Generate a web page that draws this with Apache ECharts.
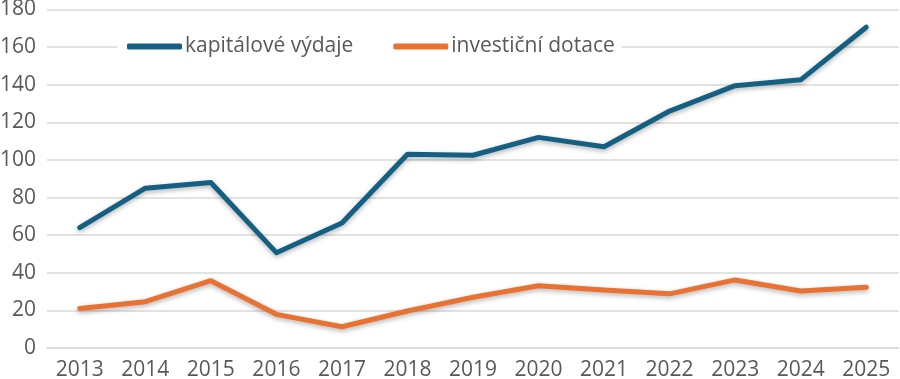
<!DOCTYPE html>
<html><head><meta charset="utf-8">
<script src="https://cdn.jsdelivr.net/npm/echarts@6/dist/echarts.min.js"></script>
<style>html,body{margin:0;padding:0;background:#fff}#c{width:900px;height:379px}</style>
</head><body><div id="c"></div>
<script>
const years = ['2013','2014','2015','2016','2017','2018','2019','2020','2021','2022','2023','2024','2025'];
const kapitaloveVydaje = [64, 85, 88, 50.7, 66.5, 103, 102.5, 112, 107, 126, 139.5, 142.6, 170.6];
const investicniDotace = [21, 24.6, 35.8, 17.9, 11.3, 19.7, 27, 33.1, 30.9, 28.8, 36.2, 30.3, 32.3];
const yTicks = {min: 0, max: 180, interval: 20};

const font = '"Open Sans", "Liberation Sans", sans-serif';
const chart = echarts.init(document.getElementById('c'), null, {renderer: 'canvas'});
const lineCommon = {
  type: 'line', symbol: 'none', smooth: false,
  lineStyle: {width: 5, cap: 'round', join: 'round', shadowColor: 'rgba(0,0,0,0.3)', shadowBlur: 5, shadowOffsetY: 2}
};
chart.setOption({
  animation: false,
  grid: {left: 47, right: 1, top: 9.5, bottom: 31, containLabel: false, outerBoundsMode: 'none'},
  legend: {
    left: 117, top: 33, backgroundColor: '#fff', padding: [3, 7, 3, 10],
    icon: 'roundRect', itemWidth: 55, itemHeight: 6, itemGap: 40,
    textStyle: {fontFamily: font, fontSize: 21, color: '#595959', padding: [0, 0, 0, -2]},
    data: ['kapitálové výdaje', 'investiční dotace']
  },
  xAxis: {
    type: 'category', data: years, boundaryGap: true,
    axisLine: {show: true, lineStyle: {color: '#d9d9d9', width: 1.5}},
    axisTick: {show: false},
    axisLabel: {fontFamily: font, fontSize: 21, color: '#595959', margin: 12}
  },
  yAxis: {
    type: 'value', min: yTicks.min, max: yTicks.max, interval: yTicks.interval,
    axisLine: {show: false}, axisTick: {show: false},
    splitLine: {lineStyle: {color: '#d9d9d9', width: 1.5}},
    axisLabel: {fontFamily: font, fontSize: 21, color: '#595959', margin: 11}
  },
  series: [
    Object.assign({}, lineCommon, {name: 'kapitálové výdaje', data: kapitaloveVydaje, color: '#156082',
      lineStyle: Object.assign({}, lineCommon.lineStyle, {color: '#156082'})}),
    Object.assign({}, lineCommon, {name: 'investiční dotace', data: investicniDotace, color: '#E97132',
      lineStyle: Object.assign({}, lineCommon.lineStyle, {color: '#E97132'})})
  ]
});
</script></body></html>
